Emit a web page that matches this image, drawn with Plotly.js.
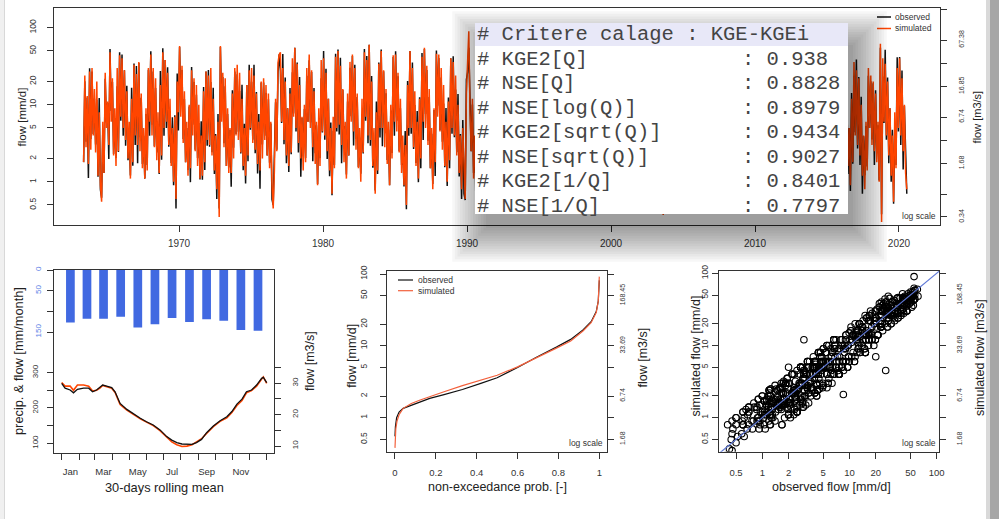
<!DOCTYPE html>
<html><head><meta charset="utf-8">
<script src="https://cdn.plot.ly/plotly-3.0.1.min.js"></script>
<style>html,body{margin:0;padding:0;background:#fff}#chart{width:999px;height:519px}</style>
</head><body><div id="chart"></div>
<script>
// ---------------- DATA ----------------
// flow series (mm/d), one value per month, start May 1963
const startYear = 1963, startMonth = 5;
const simFlow = [
/*1963*/ 1.8,24,2.8,13,1.7,27,2.6,30,
/*1964*/ 4,16,2.4,20,1.2,8,0.9,0.55,6,1.3,26,5,
/*1965*/ 11,3,48,6,22,2.2,9,1.6,30,2.5,44,7,
/*1966*/ 40,5,28,3.5,15,2,6,1.1,12,1.8,33,4,
/*1967*/ 25,3,36,2.5,14,1.5,5,1.1,9,1.4,30,6,
/*1968*/ 45,4,30,2.8,22,1.9,8,1.3,18,2.2,48,5,
/*1969*/ 38,6,26,3,12,1.6,5,1.0,7,0.6,20,8,
/*1970*/ 58,7,32,3.2,15,1.8,6,1.2,10,1.5,28,4,
/*1971*/ 22,2.5,18,1.6,10,1.1,4,1.2,15,1.8,27,3.5,
/*1972*/ 24,3,30,2.2,12,1.4,4,0.8,6,0.35,58,6,
/*1973*/ 26,2.8,22,1.6,9,1.3,5,1.3,14,2.0,30,4,
/*1974*/ 33,3.5,26,2.4,12,1.6,5,1.2,18,2.2,28,5,
/*1975*/ 30,3.2,24,2.6,14,1.7,6,1.4,20,2.0,22,3.5,
/*1976*/ 18,2.2,14,1.5,6,0.9,0.45,1.4,12,2.5,35,45,
/*1977*/ 48,6,30,3.5,20,2.2,9,1.6,14,2.4,40,7,
/*1978*/ 55,5,34,3.2,18,2.0,7,1.4,10,1.8,30,6,
/*1979*/ 45,5,28,2.8,15,1.7,6,0.9,9,1.6,38,4.5,
/*1980*/ 40,4,26,2.5,12,1.4,5,0.7,7,1.5,42,5,
/*1981*/ 50,5.5,32,3,16,1.8,6,1.1,14,2.2,36,6,
/*1982*/ 45,4.5,30,2.6,14,1.5,5,1.0,12,2.4,48,7,
/*1983*/ 38,4,60,3.5,20,1.6,5,0.7,8,1.4,34,5,
/*1984*/ 50,5,28,2.8,16,1.7,6,0.9,10,2.0,44,6,
/*1985*/ 45,4.5,26,2.4,12,1.3,4,0.9,3,0.5,18,5,
/*1986*/ 50,5,30,2.8,15,1.6,6,1.1,12,2.0,42,6,
/*1987*/ 55,5,32,3,16,1.5,5,0.8,9,1.8,46,7,
/*1988*/ 45,4.5,30,2.6,18,1.6,6,1.0,11,1.9,40,5,
/*1989*/ 36,4,24,2.2,10,1.3,4,0.8,5,1.2,0.6,14,
/*1990*/ 30,90,8,2.5,12,1.1,4,0.7,8,1.5,30,5,
/*1991*/ 35,4,24,2.5,14,1.6,5,1.0,10,2,38,5,
/*1992*/ 28,3.5,20,2.2,16,1.8,6,1.2,24,3,50,8,
/*1993*/ 30,4,18,2.0,12,1.5,5,1.0,14,12,45,9,
/*1994*/ 40,5,22,2.4,10,1.4,4,0.9,20,3,55,7,
/*1995*/ 45,6,28,2.6,12,1.5,5,0.8,9,1.6,30,8,
/*1996*/ 42,5,30,3,14,1.7,6,1.1,16,2.5,48,9,
/*1997*/ 35,4,16,1.8,8,1.2,4,0.9,6,1.4,40,10,
/*1998*/ 30,4,20,2.2,11,1.3,4,0.7,8,1.8,28,5,
/*1999*/ 36,4.5,24,2.4,14,1.6,5,1.0,12,5,46,7,
/*2000*/ 32,4,22,2.6,16,1.7,6,1.1,14,2.5,50,9,
/*2001*/ 44,6,30,3,12,1.4,4,0.9,9,1.8,34,5,
/*2002*/ 26,3,18,2.2,12,1.5,5,1.2,20,3,52,10,
/*2003*/ 40,5,20,2.2,8,1.0,2.5,0.37,6,1.6,44,8,
/*2004*/ 30,3.5,18,2,12,1.3,4,0.8,10,2,36,6,
/*2005*/ 22,2.5,14,1.6,8,1.1,3,0.7,2.1,1.8,30,5,
/*2006*/ 28,3,20,2,10,1.2,4,0.8,12,2.2,40,7,
/*2007*/ 34,4,22,2.4,14,1.4,5,1.0,4.5,1.9,38,6,
/*2008*/ 36,4.5,26,2.8,18,1.8,6,1.2,14,2.6,48,8,
/*2009*/ 40,5,24,2.6,12,1.4,4,0.8,8,1.6,42,7,
/*2010*/ 38,4.5,28,3,16,1.7,5,1.0,12,2.4,46,8,
/*2011*/ 32,4,18,2,8,1.1,4,0.8,9,2,50,7,
/*2012*/ 26,3,20,2.4,14,1.4,4,0.8,7,2.2,44,9,
/*2013*/ 42,6,32,3.2,20,2,6,1.2,12,2.4,36,6,
/*2014*/ 46,5,26,2.6,12,1.5,5,1.1,18,2.8,52,8,
/*2015*/ 38,4.5,24,2.4,10,1.2,3.5,0.8,14,2.4,40,6,
/*2016*/ 44,5,30,3,14,1.6,5,0.9,12,1.8,36,4,
/*2017*/ 28,3,22,2.2,10,1.2,4,0.8,6,1.4,30,5,
/*2018*/ 24,3,20,2.5,14,1.8,6,1.0,62,0.3,40,6,
/*2019*/ 34,4,20,2.2,9,1.2,4,0.55,8,1.5,30,5,
/*2020*/ 40,4,22,2.5,10,1.3,0.8
];
const obsFlow = [
/*1963*/ 1.8,20.2,3.3,12.4,1.12,29.7,3.6,27,
/*1964*/ 4.16,12,3.05,11.6,1.16,12.2,0.79,0.62,4.74,1.3,21.8,5.9,
/*1965*/ 10.5,1.98,52.8,8.3,19.8,2.29,6.75,2.03,17.4,2.43,48,6.2,
/*1966*/ 45,3.95,28,2.94,17.7,1.9,3.96,1.21,16.6,1.62,34.3,3.0,
/*1967*/ 31.8,1.74,34.9,3.8,12.3,1.7,3.95,1.1,7.6,1.65,28.5,3.96,
/*1968*/ 49.5,5.5,27,2.9,16.5,2.41,4.64,1.26,27.4,1.94,54,3.95,
/*1969*/ 38,5.0,30.7,2.85,7.9,1.76,6.9,0.9,7.3,0.45,25.4,4.64,
/*1970*/ 56,10.6,28.2,3.6,11.9,1.8,5.0,1.42,9.5,0.99,30.8,5.5,
/*1971*/ 19.8,2.6,13.5,2.03,5.8,1.07,6.1,1.06,17,1.42,27,2.94,
/*1972*/ 28.3,2.85,19.8,2.42,16.6,1.26,4.16,0.6,7.6,0.45,56,9.1,
/*1973*/ 22.9,3.16,17.4,1.6,7.6,1.53,4.75,0.86,15.4,2.76,27,4.16,
/*1974*/ 24.8,4.45,15.1,2.33,18.2,1.41,5.65,0.95,18,1.85,33,4.75,
/*1975*/ 19.8,3.52,33,2.34,14.6,1.28,7.6,0.81,19.4,3.04,19.4,3.96,
/*1976*/ 14.2,2.2,11.8,1.77,5.7,0.59,0.5,1.93,10.8,2.6,26,45,
/*1977*/ 27.8,5.8,45.6,3.08,22.6,1.74,9,1.34,16.5,2.28,26.4,7.7,
/*1978*/ 55,4.5,35.4,2.4,22.9,1.16,6.8,2.13,8.8,2.03,23.7,6,
/*1979*/ 37.8,5.9,26.6,1.85,16.5,2.35,5.4,0.94,6.75,2.03,22,4.37,
/*1980*/ 50,3.52,29.4,1.98,12,1.18,5.9,0.67,4.6,1.65,46,4.5,
/*1981*/ 52,4.1,40.6,1.74,15.5,2.74,5.3,1.24,11,2.2,30.2,7.1,
/*1982*/ 42.8,2.97,33,3.6,12.6,1.56,3.75,1.27,7.0,2.33,53,6.2,
/*1983*/ 43,3.16,60,2.94,23.6,1.52,3.3,0.77,11,1.26,35.4,3.75,
/*1984*/ 52,2.9,27.2,4.26,14.1,1.92,4.74,0.9,8.4,2.36,41.8,3.96,
/*1985*/ 49.5,6.2,23.4,2.5,9,1.65,2.32,0.87,4.56,0.44,20.3,3.95,
/*1986*/ 50,4.2,35.4,2.66,9.9,1.76,8.3,0.99,12.5,1.5,47,3.48,
/*1987*/ 53,7.6,28.2,3.4,12.6,1.5,4.2,0.94,8.55,1.19,50.6,9.7,
/*1988*/ 40.5,4.68,22.5,3.3,10.4,1.55,9.1,0.88,12.4,1.5,40,4.2,
/*1989*/ 42.5,3.8,15.8,2.42,13.8,1.17,4.16,0.6,6.35,0.7,0.58,21.3,
/*1990*/ 26.4,55,6.3,2.5,10.1,1.3,3.8,0.46,8.8,2.07,27,5.2,
/*1991*/ 27.3,6.6,26.9,1.25,17.9,2.9,2.75,1.32,6.8,4.2,34,9.5,
/*1992*/ 42,1.93,13,3.4,16,1.12,8.4,2.5,18.7,2.04,56,6.4,
/*1993*/ 27,7.6,23,1.24,6.6,2.7,4.0,0.5,21,3.0,35,12.6,
/*1994*/ 45,3.4,17.2,4.3,16.5,0.7,7.6,1.4,13,6.3,50,3.85,
/*1995*/ 29,8.4,36,1.6,6.6,3.15,6.0,0.6,14.9,0.8,33.6,5.4,
/*1996*/ 42,2.75,23.4,5.7,21,1.05,4.1,2.0,10.4,3.3,61,14.9,
/*1997*/ 45,7.6,10.4,2.07,4.4,2.5,6.6,0.45,8.4,0.87,31,6.8,
/*1998*/ 23.4,2.2,30,4.0,13.2,0.65,3.2,1.08,15.2,1.35,35.8,2.75,
/*1999*/ 40,7.4,15.6,1.49,10.9,2.5,9.5,0.5,15.4,2.0,41,9.8,
/*2000*/ 20.8,2.7,33,5.5,12.5,1.05,9.9,2.0,15.7,1.25,50,5.0,
/*2001*/ 56,11.4,23.4,1.65,19.8,2.94,2.2,1.19,6.1,2.8,22,7.0,
/*2002*/ 23.4,1.86,23,4.0,6.6,1.12,9.5,0.6,30,4.95,40.6,8.0,
/*2003*/ 31,7.0,13,3.4,15.2,2.1,1.55,0.42,3.3,2.9,49,5.4,
/*2004*/ 45,1.93,23,1.0,8.2,2.34,6.6,1.68,5.5,1.24,32.4,11.4,
/*2005*/ 14.3,4.5,21,3.4,4.4,0.68,4.2,0.92,8.5,0.9,38.4,3.4,
/*2006*/ 31.4,1.86,13,3.1,19,2.5,2.2,0.4,15.4,4.0,31.2,11.6,
/*2007*/ 26.5,7.6,28,1.2,9.1,2.5,8.2,0.62,26,2.9,42.5,3.3,
/*2008*/ 54,2.5,16.9,5.0,23,0.9,4.1,2.5,10.9,1.6,43,15.2,
/*2009*/ 26,8.25,36,1.6,6.6,2.94,7.6,1.24,4.4,2.1,54,4.8,
/*2010*/ 48.6,3.06,18.2,5.7,24,1.05,2.75,1.8,16.8,1.2,36,13.2,
/*2011*/ 25,7.6,27,1.0,13.2,2.3,2.2,0.5,12.6,3.6,50,4.8,
/*2012*/ 39,1.86,13,4.3,10.9,0.7,7.6,1.68,20,1.21,56,5.0,
/*2013*/ 32.8,9.9,41,1.76,13,4.2,8.4,0.6,18,4.3,40.3,3.3,
/*2014*/ 51.5,2.75,16.9,4.9,19.8,0.93,2.75,2.0,14,1.4,46.8,15.2,
/*2015*/ 24.7,8.55,36,1.2,5.5,2.5,5.8,1.06,9.1,3.7,51,4.1,
/*2016*/ 25.5,4.85,45.6,2.64,15.8,1.26,5.0,0.76,14.2,1.71,23.8,4.4,
/*2017*/ 38.6,2.7,22.9,1.65,12.7,0.7,3.9,1.22,5.3,1.58,23.7,5,
/*2018*/ 20.2,3.54,19,1.65,15.4,2.48,5.4,1.04,55,0.38,23.2,5.8,
/*2019*/ 51.7,3.52,22.6,1.74,9,1.0,4.72,0.52,5.3,1.65,41.4,4.5,
/*2020*/ 41.6,3.0,27.9,1.45,9.7,1.98,0.7
];

// 30-day rolling mean regime (mm/month) by day of year
const regimeDay = [0,6,15,21,28,39,48,55,62,68,73,80,89,95,104,116,128,140,151,163,175,187,196,205,214,223,232,240,249,258,270,282,294,303,312,321,329,338,347,356,359,365];
const regimeObs = [270,256,251,243,253,256,256,246,251,258,265,262,258,246,213,196,183,171,161,152,138,119,109,102,98,98,97,102,111,130,149,164,175,190,211,225,246,251,265,284,287,272];
const regimeSim = [272,262,262,250,265,265,262,248,250,256,264,260,256,244,210,194,181,169,160,150,136,116,104,96,91,92,96,104,113,128,147,162,172,187,207,221,243,249,262,282,288,270];
// monthly precipitation (mm/month)
const monthNames = ['Jan','Feb','Mar','Apr','May','Jun','Jul','Aug','Sep','Oct','Nov','Dec'];
const monthDays = [31,28,31,30,31,30,31,31,30,31,30,31];
const precipMonthly = [127,118,118,113,139,131,116,126,119,123,145,147];

// flow duration curves
const fdcProbObs = [0,0.002,0.008,0.02,0.04,0.08,0.12,0.17,0.24,0.33,0.42,0.5,0.6,0.69,0.79,0.86,0.92,0.96,0.985,0.995,1.0];
const fdcObs     = [0.55,0.75,1.0,1.2,1.35,1.5,1.65,1.86,2.1,2.47,3.0,3.6,5.0,6.9,9.6,12.3,16.6,21.7,30,42,82];
const fdcProbSim = [0,0.001,0.004,0.01,0.02,0.04,0.08,0.12,0.17,0.24,0.33,0.42,0.5,0.6,0.69,0.79,0.86,0.92,0.96,0.985,0.995,1.0];
const fdcSim     = [0.38,0.5,0.7,0.9,1.1,1.35,1.58,1.75,1.98,2.3,2.8,3.3,3.9,5.1,6.7,9.3,11.7,16.1,21,29,42,92];
const identityLine = [0.1, 1000];

// tick labels
const yearTicks = [1970,1980,1990,2000,2010,2020];
const logTicks = [0.5,1,2,5,10,20,50,100];
const logTickText = ['0.5','1','2','5','10','20','50','100'];
const m3sTicksTop = [0.34,0.67,1.68,3.37,6.74,16.85,33.69,67.38,168.45];
const m3sTextTop  = ['0.34','','1.68','','6.74','16.85','','67.38',''];
const m3sTextBottom = ['1.68','','6.74','','33.69','','168.45',''];
const probTicks = [0,0.2,0.4,0.6,0.8,1];
const probText = ['0','0.2','0.4','0.6','0.8','1'];

// calibration criteria
const critTitle = '# Critere calage : KGE-KGEi';
const critNames = ['# KGE2[Q]','# NSE[Q]','# NSE[log(Q)]','# KGE2[sqrt(Q)]','# NSE[sqrt(Q)]','# KGE2[1/Q]','# NSE[1/Q]'];
const critValues = ['0.938','0.8828','0.8979','0.9434','0.9027','0.8401','0.7797'];

// ---------------- BUILD ----------------
const W = 999, H = 519;
const px = v => v / W;
const py = v => 1 - v / H;
const SANS = 'Liberation Sans, Arial, Helvetica, sans-serif';
const MONO = 'Liberation Mono, Courier New, monospace';
const ORANGE = '#ff4500';

const n = Math.min(simFlow.length, obsFlow.length);
const tSeries = [];
for (let i = 0; i < n; i++) tSeries.push(startYear + (startMonth - 1 + i + 0.5) / 12);
const obsS = obsFlow.slice(0, n), simS = simFlow.slice(0, n);

const monthStart = [0];
monthDays.forEach((d, i) => monthStart.push(monthStart[i] + d));
const monthMid = monthDays.map((d, i) => monthStart[i] + d / 2);
const oddIdx = [0,2,4,6,8,10];

const empty = (xa, ya) => ({type:'scatter', mode:'lines', x:[], y:[], xaxis:xa, yaxis:ya, hoverinfo:'skip'});

const traces = [
  {type:'scatter', mode:'lines', x:tSeries, y:obsS, xaxis:'x', yaxis:'y', line:{color:'#111', width:1.5}, hoverinfo:'skip'},
  {type:'scatter', mode:'lines', x:tSeries, y:simS, xaxis:'x', yaxis:'y', line:{color:ORANGE, width:1.5}, hoverinfo:'skip'},
  empty('x','y2'),

  {type:'bar', x:monthMid, y:precipMonthly, width:15.5, xaxis:'x2', yaxis:'y3', marker:{color:'#4169e1', line:{width:0}}, hoverinfo:'skip'},
  {type:'scatter', mode:'lines', x:regimeDay, y:regimeSim, xaxis:'x2', yaxis:'y4', line:{color:ORANGE, width:1.6}, hoverinfo:'skip'},
  {type:'scatter', mode:'lines', x:regimeDay, y:regimeObs, xaxis:'x2', yaxis:'y4', line:{color:'#111', width:1.3}, hoverinfo:'skip'},
  empty('x2','y5'), empty('x3','y3'),

  {type:'scatter', mode:'lines', x:fdcProbObs, y:fdcObs, xaxis:'x4', yaxis:'y6', line:{color:'#111', width:1.2}, hoverinfo:'skip'},
  {type:'scatter', mode:'lines', x:fdcProbSim, y:fdcSim, xaxis:'x4', yaxis:'y6', line:{color:'#f2603c', width:1.2}, hoverinfo:'skip'},
  empty('x4','y7'),

  {type:'scatter', mode:'markers', x:obsS, y:simS, xaxis:'x5', yaxis:'y8', marker:{symbol:'circle-open', size:6.5, color:'#000', line:{width:1.1}}, hoverinfo:'skip'},
  {type:'scatter', mode:'lines', x:identityLine, y:identityLine, xaxis:'x5', yaxis:'y8', line:{color:'#5f78d6', width:1.2}, hoverinfo:'skip'},
  empty('x5','y9')
];

const base = {showgrid:false, zeroline:false, ticks:'outside', ticklen:6, tickwidth:1, tickcolor:'#333',
  linecolor:'#333', linewidth:1, fixedrange:true, tickmode:'array', autorange:false,
  tickfont:{family:SANS, size:9.5, color:'#333'}};
const ax = o => Object.assign({}, base, o, {tickfont:Object.assign({}, base.tickfont, o.tickfont || {})});

const layout = {
  width:W, height:H, margin:{l:0,r:0,t:0,b:0}, showlegend:false,
  paper_bgcolor:'#ffffff', plot_bgcolor:'#ffffff', font:{family:SANS},
  // top panel
  xaxis: ax({domain:[px(54),px(939.5)], anchor:'y', range:[1961.319,2022.813], tickvals:yearTicks, ticktext:yearTicks.map(String), showline:true, mirror:true, tickfont:{size:10}, ticklabelstandoff:3}),
  yaxis: ax({domain:[py(225),py(8.3)], anchor:'x', type:'log', range:[-0.5607,2.2518], tickvals:logTicks, ticktext:logTickText, tickangle:-90, showline:true, mirror:true, tickfont:{size:8.5}, ticklabelstandoff:8}),
  yaxis2: ax({overlaying:'y', side:'right', anchor:'x', type:'log', range:[-0.5725,2.2399], tickvals:m3sTicksTop, ticktext:m3sTextTop, tickangle:-90, showline:false, tickfont:{size:7}, ticklabelstandoff:9}),
  // regime panel
  xaxis2: ax({domain:[px(54),px(274.3)], anchor:'y3', range:[-13.71,378.53], tickvals:monthStart, ticktext:monthStart.map(()=>''), showline:true, mirror:true}),
  xaxis3: ax({overlaying:'x2', anchor:'y3', side:'bottom', range:[-13.71,378.53], tickvals:oddIdx.map(i=>monthMid[i]), ticktext:oddIdx.map(i=>monthNames[i]), ticks:'', ticklen:0, showline:false, ticklabelstandoff:11}),
  yaxis3: ax({domain:[py(453),py(270)], anchor:'x2', range:[442.7,0], tickvals:[0,50,100,150], ticktext:['0','50','','150'], tickangle:-90, showline:true, mirror:true, tickfont:{size:8, color:'#5b7fe6'}, ticklabelstandoff:3}),
  yaxis4: ax({overlaying:'y3', side:'left', anchor:'x2', range:[72.5,590.9], tickvals:[100,150,200,250,300], ticktext:['100','','200','','300'], tickangle:-90, showline:false, tickfont:{size:8}, ticklabelstandoff:6}),
  yaxis5: ax({overlaying:'y3', side:'right', anchor:'x2', range:[7.77,66.14], tickvals:[10,15,20,25,30,35], ticktext:['10','','20','','30',''], tickangle:-90, showline:false, tickfont:{size:8}, ticklabelstandoff:7}),
  // FDC panel
  xaxis4: ax({domain:[px(386.7),px(606.7)], anchor:'y6', range:[-0.0406,1.0362], tickvals:probTicks, ticktext:probText, showline:true, mirror:true, ticklabelstandoff:6}),
  yaxis6: ax({domain:[py(452),py(270.7)], anchor:'x4', type:'log', range:[-0.4774,2.0459], tickvals:logTicks, ticktext:logTickText, tickangle:-90, showline:true, mirror:true, tickfont:{size:8.5}, ticklabelstandoff:9}),
  yaxis7: ax({overlaying:'y6', side:'right', anchor:'x4', type:'log', range:[-0.4774,2.0459], tickvals:logTicks, ticktext:m3sTextBottom, tickangle:-90, showline:false, tickfont:{size:7}, ticklabelstandoff:3}),
  // scatter panel
  xaxis5: ax({domain:[px(719.3),px(939.3)], anchor:'y8', type:'log', range:[-0.4931,2.0298], tickvals:logTicks, ticktext:logTickText, showline:true, mirror:true, ticklabelstandoff:6}),
  yaxis8: ax({domain:[py(451.7),py(270.7)], anchor:'x5', type:'log', range:[-0.4709,2.036], tickvals:logTicks, ticktext:logTickText, tickangle:-90, showline:true, mirror:true, tickfont:{size:8.5}, ticklabelstandoff:1}),
  yaxis9: ax({overlaying:'y8', side:'right', anchor:'x5', type:'log', range:[-0.4709,2.036], tickvals:logTicks, ticktext:m3sTextBottom, tickangle:-90, showline:false, tickfont:{size:7}, ticklabelstandoff:7})
};

function ann(text, x, y, o) {
  return Object.assign({text:text, x:px(x), y:py(y), xref:'paper', yref:'paper', showarrow:false,
    xanchor:'center', yanchor:'middle', borderpad:0, font:{family:SANS, size:12.5, color:'#222'}}, o || {});
}
function rect(x0, y0, x1, y1, fill) {
  return {type:'rect', xref:'paper', yref:'paper', x0:px(x0), x1:px(x1), y0:py(y1), y1:py(y0), fillcolor:fill, line:{width:0}, layer:'above'};
}
function seg(x0, y0, x1, y1, color, w) {
  return {type:'line', xref:'paper', yref:'paper', x0:px(x0), x1:px(x1), y0:py(y0), y1:py(y1), line:{color:color, width:w}, layer:'above'};
}

const small = {family:SANS, size:8.5, color:'#333'};
const annotations = [
  ann('flow [mm/d]', 21.7, 116.7, {textangle:-90, font:{family:SANS, size:11.5, color:'#222'}}),
  ann('flow [m3/s]', 976.7, 116.7, {textangle:-90, font:{family:SANS, size:11, color:'#222'}}),
  ann('precip. & flow [mm/month]', 18, 361, {textangle:-90, font:{family:SANS, size:12.8, color:'#222'}}),
  ann('flow [m3/s]', 310, 361, {textangle:-90}),
  ann('30-days rolling mean', 164, 487, {font:{family:SANS, size:12.8, color:'#222'}}),
  ann('flow [mm/d]', 351.7, 356, {textangle:-90}),
  ann('flow [m3/s]', 642.5, 358, {textangle:-90}),
  ann('non-exceedance prob. [-]', 497, 487),
  ann('simulated flow [mm/d]', 695.5, 356, {textangle:-90}),
  ann('simulated flow [m3/s]', 980, 358, {textangle:-90}),
  ann('observed flow [mm/d]', 831, 487),
  ann('observed', 894, 17, {xanchor:'left', font:small}),
  ann('simulated', 894, 28.5, {xanchor:'left', font:small}),
  ann('log scale', 937, 216, {xanchor:'right', font:small}),
  ann('observed', 417, 280, {xanchor:'left', font:small}),
  ann('simulated', 417, 290.7, {xanchor:'left', font:small}),
  ann('log scale', 604, 442.7, {xanchor:'right', font:small}),
  ann('log scale', 937, 442.7, {xanchor:'right', font:small})
];
const monoFont = {family:MONO, size:20.5, color:'#444'};
annotations.push(ann(critTitle, 476, 34.5, {xanchor:'left', font:monoFont}));
critNames.forEach((nm, i) => {
  const yc = 34.5 + 24.5 * (i + 1);
  annotations.push(ann(nm, 476, yc, {xanchor:'left', font:monoFont}));
  annotations.push(ann(': ' + critValues[i], 741, yc, {xanchor:'left', font:monoFont}));
});

const shapes = [];
// legend glyphs
shapes.push(seg(877, 17, 891, 17, '#111', 1.5));
shapes.push(seg(877, 28.5, 891, 28.5, ORANGE, 1.5));
shapes.push(seg(398, 280, 413, 280, '#111', 1.2));
shapes.push(seg(398, 290.7, 413, 290.7, '#f2603c', 1.2));
// soft shadow of the overlaid text box
for (let k = 0; k <= 13; k++) {
  const e = 2.6 * k;
  shapes.push(rect(486 - e, 45 - e, 853 + e, 228 + e, 'rgba(0,0,0,0.03)'));
}
shapes.push(rect(475, 23, 848, 214, '#ffffff'));
shapes.push(rect(475, 23, 848, 46, '#e8e8f8'));
// window edges
shapes.push(rect(0, 0, 4, 519, '#f0f0f0'));
shapes.push(seg(4.5, 0, 4.5, 519, '#d8d8d8', 1));
shapes.push(rect(986, 0, 990, 519, '#d9d9d9'));
shapes.push(rect(990, 0, 999, 519, '#a6a6a6'));

layout.annotations = annotations;
layout.shapes = shapes;

Plotly.newPlot('chart', traces, layout, {staticPlot:true, displayModeBar:false});
</script></body></html>
